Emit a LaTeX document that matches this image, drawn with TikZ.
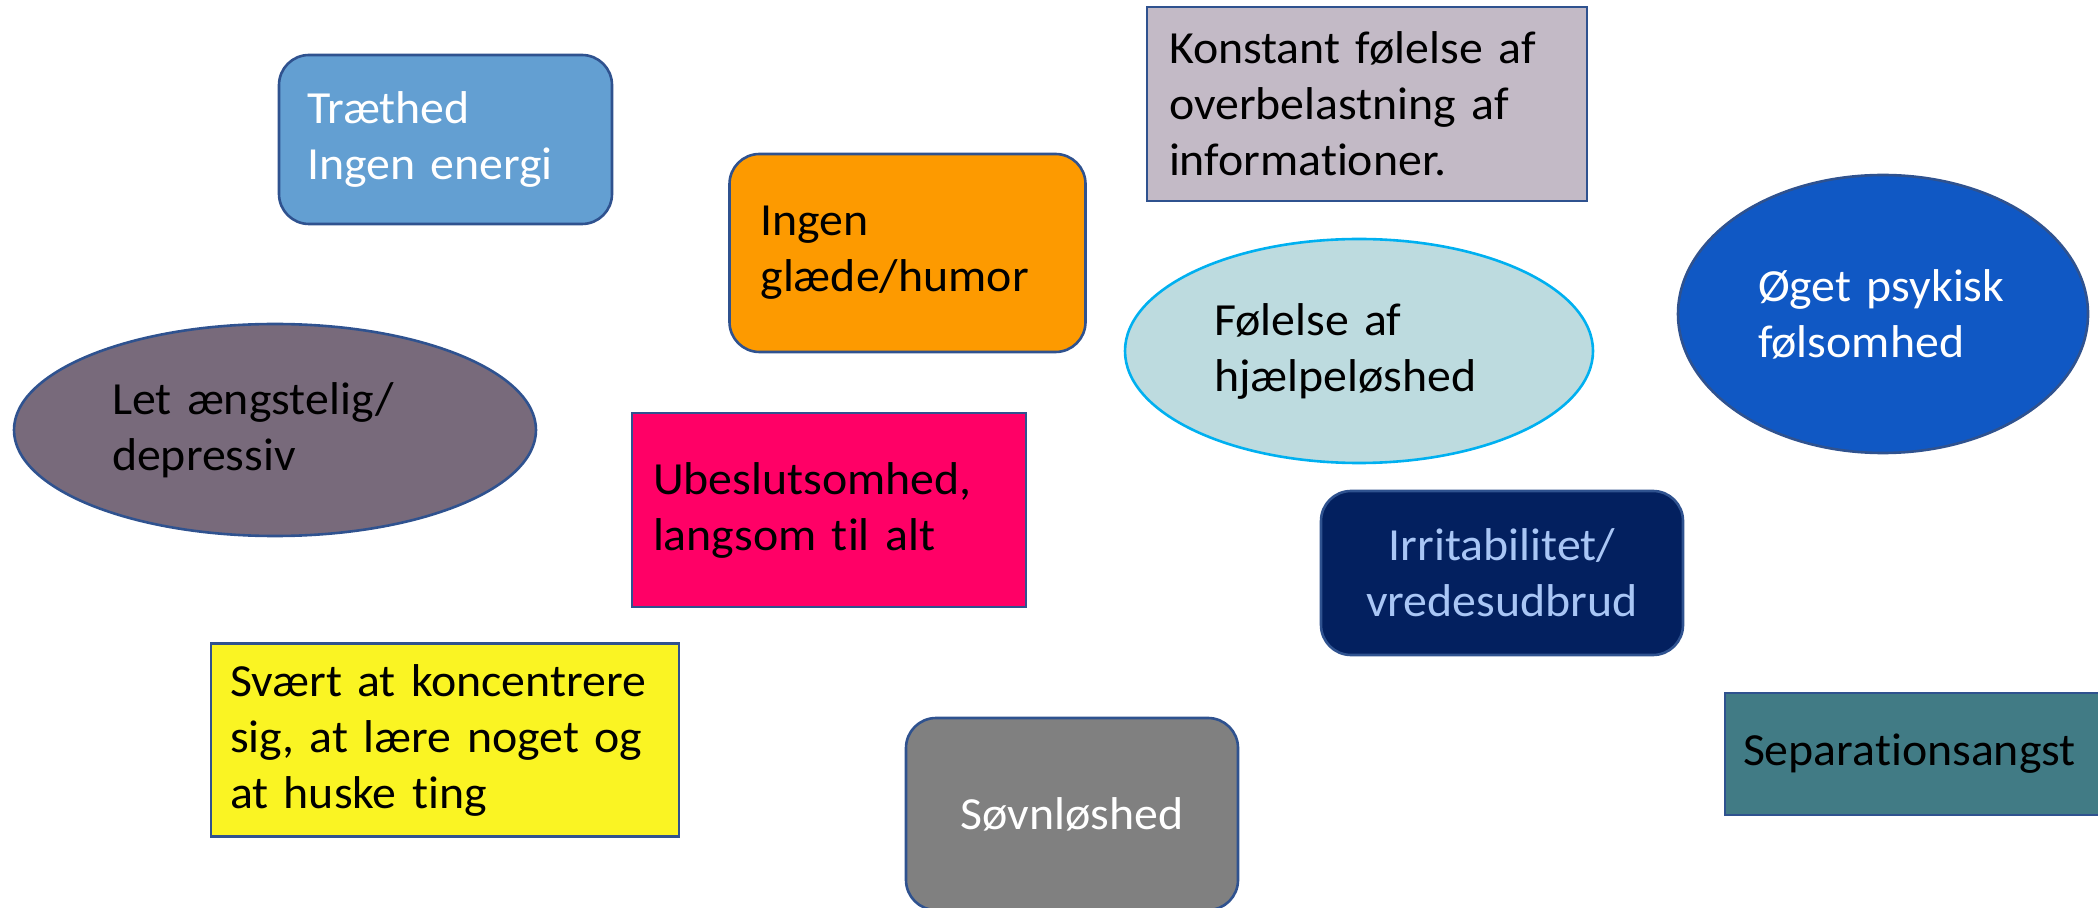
\documentclass[tikz,border=0pt]{standalone}
\usepackage{fontspec}
\setmainfont{Carlito}[Ligatures=NoCommon,FakeStretch=1.04,WordSpace=0.8]
\usepackage{tikz}
\usetikzlibrary{shapes.geometric}

\definecolor{rim}{HTML}{2F528F}
\definecolor{traethedfill}{HTML}{639FD2}
\definecolor{glaedefill}{HTML}{FD9A00}
\definecolor{konstantfill}{HTML}{C3BAC6}
\definecolor{foelelsefill}{HTML}{BDDBDF}
\definecolor{foelelserim}{HTML}{00B0F0}
\definecolor{oegetfill}{HTML}{1058C4}
\definecolor{letfill}{HTML}{786A7B}
\definecolor{ubeslutfill}{HTML}{FF0066}
\definecolor{irritfill}{HTML}{03205F}
\definecolor{irrittext}{HTML}{A9C6F5}
\definecolor{svaertfill}{HTML}{FAF423}
\definecolor{soevnfill}{HTML}{808080}
\definecolor{separationfill}{HTML}{417B85}

\begin{document}
\begin{tikzpicture}[x=0.5pt,y=0.5pt,yscale=-1,xscale=1,
  symptom/.style={draw=rim,line width=1.3pt,inner ysep=0pt,align=left,
    font=\fontsize{23}{28}\selectfont},
  sqbox/.style={symptom,rectangle},
  rbox/.style={symptom,rectangle,rounded corners=15pt},
  oval/.style={symptom,ellipse,inner sep=0pt}]
\useasboundingbox (0,0) rectangle (2098,908);
\clip (0,0) rectangle (2098,908);
%Rounded Rect
\node [rbox,fill=traethedfill,text=white,text width=138.5pt,inner xsep=14pt,minimum height=84.5pt] (traethed) at (445.5,139.5) {Træthed\\Ingen energi};
%Rounded Rect
\node [rbox,fill=glaedefill,text width=147pt,inner xsep=15.5pt,minimum height=99pt] (glaede) at (907.5,253) {Ingen\\glæde/humor};
%Shape: Rectangle
\node [sqbox,fill=konstantfill,text width=198pt,inner xsep=11pt,minimum height=97pt] (konstant) at (1367,104) {Konstant følelse af\\overbelastning af\\informationer.};
%Shape: Ellipse
\node [oval,draw=foelelserim,fill=foelelsefill,text width=145pt,minimum width=234pt,minimum height=112pt] (foelelse) at (1359,351) {Følelse af\\hjælpeløshed};
%Shape: Ellipse
\node [oval,fill=oegetfill,text=white,text width=125pt,minimum width=205pt,minimum height=139pt] (oeget) at (1883,314) {Øget psykisk\\følsomhed};
%Shape: Ellipse
\node [oval,fill=letfill,text width=163pt,minimum width=261pt,minimum height=106pt] (let) at (275,430) {Let ængstelig/\\depressiv};
%Shape: Rectangle
\node [sqbox,fill=ubeslutfill,text width=176pt,inner xsep=10.5pt,minimum height=97pt] (ubeslut) at (829,510) {Ubeslutsomhed,\\langsom til alt};
%Rounded Rect
\node [rbox,fill=irritfill,text=irrittext,align=center,text width=161pt,inner xsep=10pt,minimum height=82pt] (irrit) at (1502,573) {Irritabilitet/\\vredesudbrud};
%Shape: Rectangle
\node [sqbox,fill=svaertfill,text width=215pt,inner xsep=9.5pt,minimum height=96.5pt] (svaert) at (445,740) {Svært at koncentrere\\sig, at lære noget og\\at huske ting};
%Rounded Rect
\node [rbox,fill=soevnfill,text=white,align=center,text width=146pt,inner xsep=10pt,minimum height=96pt] (soevn) at (1072,814) {Søvnløshed};
%Shape: Rectangle
\node [sqbox,fill=separationfill,text width=179.5pt,inner xsep=9pt,minimum height=61pt] (separation) at (1922.5,754) {Separationsangst};
\end{tikzpicture}
\end{document}
